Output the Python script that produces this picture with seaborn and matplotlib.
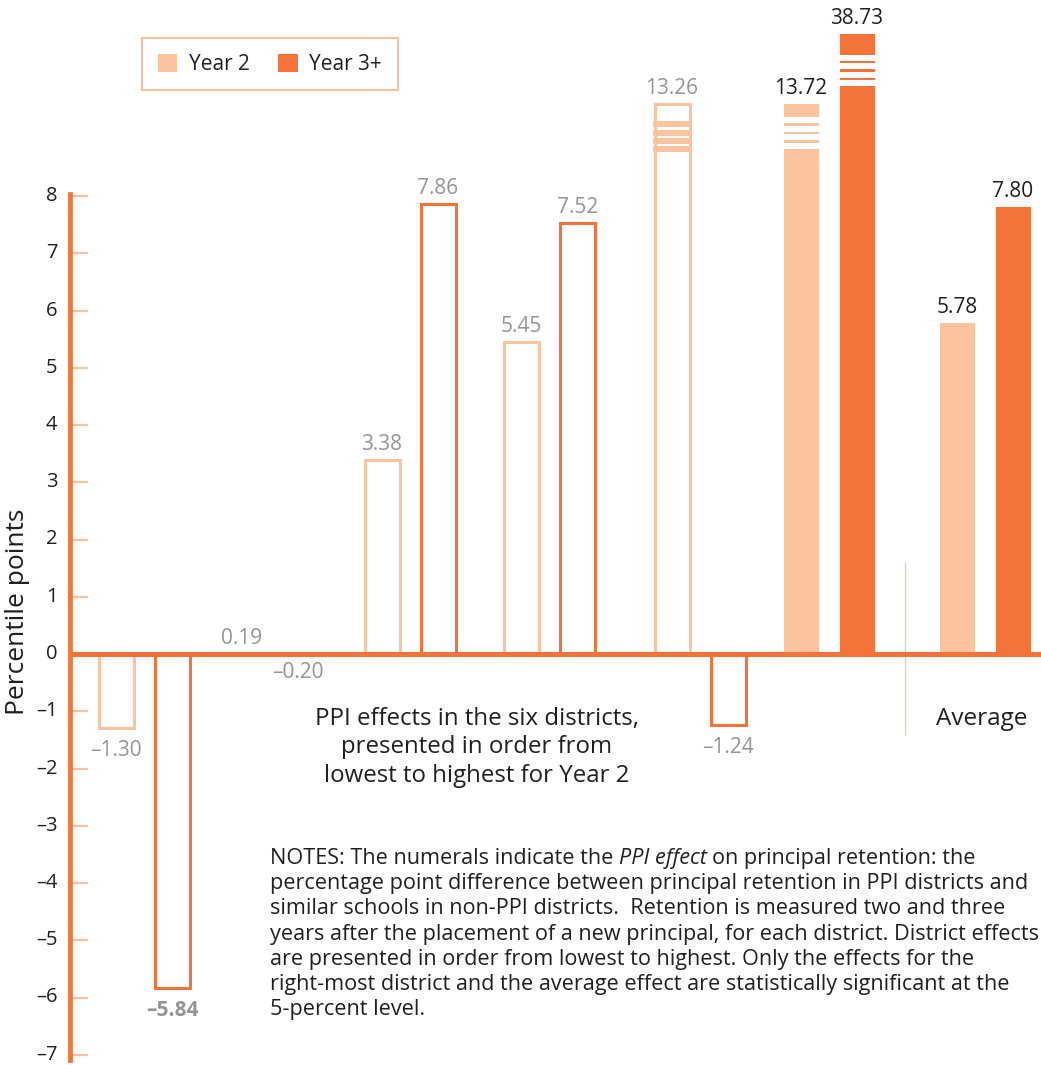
import numpy as np
import pandas as pd
import matplotlib
matplotlib.use("Agg")
import matplotlib.pyplot as plt
import seaborn as sns
from matplotlib.patches import Rectangle, Patch
from matplotlib import font_manager as fm

# ---------------- data ----------------
districts = ["D1", "D2", "D3", "D4", "D5", "D6", "Average"]
year2 = [-1.30, 0.19, 3.38, 5.45, 13.26, 13.72, 5.78]
year3 = [-5.84, -0.20, 7.86, 7.52, -1.24, 38.73, 7.80]
series = ["Year 2", "Year 3+"]
significant = ["D6", "Average"]
ytick_values = list(range(-7, 9))

center_text = ["PPI effects in the six districts,",
               "presented in order from",
               "lowest to highest for Year 2"]
notes_pre = "NOTES: The numerals indicate the"
notes_ital = "PPI effect"
notes_post = "on principal retention: the"
notes_lines = [
    "percentage point difference between principal retention in PPI districts and",
    "similar schools in non-PPI districts.  Retention is measured two and three",
    "years after the placement of a new principal, for each district. District effects",
    "are presented in order from lowest to highest. Only the effects for the",
    "right-most district and the average effect are statistically significant at the",
    "5-percent level.",
]

# ---------------- layout / style ----------------
W, H = 1041, 1065
PXU = 57.25          # pixels per unit
ZERO_Y = 654         # pixel row of zero
group_x = [144, 270, 410, 549.5, 700, 829, 985]
cap = {"Year 2": 9.6, "Year 3+": 10.83}   # axis-break display heights
hidden = ["D2"]
bold_labels = [("D1", "Year 3+")]
DARK = "#F37338"
LIGHT = "#FBC39E"
GRAY = "#939598"
INK = "#231F20"

sns.set_theme(style="white")
plt.rcParams['font.family'] = ['Open Sans', 'DejaVu Sans']


def italic_family():
    for fam in ['Open Sans', 'Noto Sans', 'Lato', 'DejaVu Sans']:
        try:
            f = fm.findfont(fm.FontProperties(family=fam, style='italic'),
                            fallback_to_default=False)
            if 'italic' in f.lower() or 'oblique' in f.lower():
                return fam
        except Exception:
            pass
    return 'DejaVu Sans'


ITAL = italic_family()


def dy(py):
    """pixel row -> data y"""
    return (ZERO_Y - py) / PXU


def ff(x, y):
    """pixel -> figure fraction"""
    return x / W, 1 - y / H


def fmt(v):
    return ("\u2013" if v < 0 else "") + f"{abs(v):g}"


rows = []
for d, gx, v2, v3 in zip(districts, group_x, year2, year3):
    for s, v in zip(series, [v2, v3]):
        rows.append(dict(district=d, x=gx, series=s, value=v,
                         shown=min(v, cap[s])))
df = pd.DataFrame(rows)

fig = plt.figure(figsize=(W / 100, H / 100), dpi=100)
ax = fig.add_axes([0, 0, 1, 1])
ax.set_facecolor("white")

native = min(np.diff(sorted(set(group_x))))
sns.barplot(data=df, x="x", y="shown", hue="series", hue_order=series,
            palette=[LIGHT, DARK], native_scale=True, width=112 / native,
            gap=0.375, errorbar=None, legend=False, saturation=1, ax=ax,
            zorder=2)

# match patches to rows
offset = {"Year 2": -28, "Year 3+": 28}
exp_centers = np.array([r.x + offset[r.series] for r in df.itertuples()])
for p in list(ax.patches):
    cx = p.get_x() + p.get_width() / 2
    idx = int(np.argmin(np.abs(exp_centers - cx)))
    r = df.iloc[idx]
    col = LIGHT if r.series == "Year 2" else DARK
    if r.district in hidden:
        p.set_visible(False)
        continue
    filled = r.district in significant
    if filled:
        p.set_facecolor(col)
        p.set_edgecolor("none")
    else:
        p.set_facecolor("white")
        p.set_edgecolor(col)
        p.set_linewidth(2.2)
    # axis-break marks
    if r.value > cap[r.series]:
        top = r.shown
        x0, w = p.get_x(), p.get_width()
        if filled:
            d0 = 13 if r.series == "Year 2" else 21
            for k in range(4):
                off = d0 + 8.5 * k
                ax.add_patch(Rectangle((x0 - 0.5, top - (off + 6) / PXU), w + 1,
                                       6 / PXU, facecolor="white",
                                       edgecolor="none", zorder=3))
        else:
            for off in [17, 25.3, 33.7, 42]:
                ax.add_patch(Rectangle((x0 - 1.5, top - (off + 6) / PXU), w + 3,
                                       6 / PXU, facecolor=col,
                                       edgecolor="none", zorder=3))

# value labels
for r in df.itertuples():
    anchor = 0 if r.district in hidden else r.shown
    cx = r.x + offset[r.series]
    if r.value >= 0:
        yb = anchor + 10 / PXU
    else:
        yb = anchor - (24 if r.district in hidden else 28) / PXU
    txt = ("\u2013" if r.value < 0 else "") + f"{abs(r.value):.2f}"
    ax.text(cx, yb, txt, ha="center", va="baseline", fontsize=15,
            color=INK if r.district in significant else GRAY,
            fontweight="bold" if (r.district, r.series) in bold_labels else "normal",
            zorder=6)

# axes
ax.set_xlim(0, W)
ax.set_ylim(dy(H), dy(0))
for s in ["top", "right", "bottom"]:
    ax.spines[s].set_visible(False)
sp = ax.spines["left"]
sp.set_position(("data", 70))
sp.set_bounds(-7.1, 8.04)
sp.set_color(DARK)
sp.set_linewidth(3.4)
sp.set_zorder(5)
ax.set_xticks([])
ax.set_yticks(ytick_values)
ax.set_yticklabels([fmt(v) for v in ytick_values])
ax.tick_params(axis="y", direction="in", length=13, width=1.6, color=LIGHT,
               pad=9, labelsize=14.5, labelcolor=INK, left=True)
for lbl in ax.get_yticklabels():
    lbl.set_verticalalignment("center")
ax.set_xlabel("")
ax.set_ylabel("")
ax.plot([70, W], [0, 0], color=DARK, lw=3.6, zorder=4, solid_capstyle="butt")
ax.plot([905, 905], [dy(562), dy(735)], color=LIGHT, lw=0.9, zorder=1)

fig.text(*ff(18, 612), "Percentile points", rotation=90, ha="center",
         va="center", fontsize=19, color=INK)

# legend
handles = [Patch(facecolor=LIGHT, edgecolor="none"),
           Patch(facecolor=DARK, edgecolor="none")]
leg = fig.legend(handles, series, loc="upper left",
                 bbox_to_anchor=ff(142, 38), ncol=2, frameon=True,
                 fancybox=False, edgecolor="#F7A67C", fontsize=15,
                 handlelength=0.95, handleheight=0.95, handletextpad=0.55,
                 columnspacing=1.35, borderpad=0.75, borderaxespad=0)
leg.get_frame().set_linewidth(1.3)
for t in leg.get_texts():
    t.set_color(INK)

# centre annotation text
for i, line in enumerate(center_text):
    fig.text(*ff(477, 724.5 + 28.5 * i), line, ha="center", va="baseline",
             fontsize=17.3, color=INK)
fig.text(*ff(982, 725), "Average", ha="center", va="baseline", fontsize=17.5,
         color=INK)

# notes
NFS = 15.6
renderer = fig.canvas.get_renderer()


def width_px(s, **kw):
    t = fig.text(0, 0, s, fontsize=NFS, **kw)
    w = t.get_window_extent(renderer).width
    t.remove()
    return w


space = width_px("x x") - width_px("xx")
x0, yb0 = 270, 864
t1 = fig.text(*ff(x0, yb0), notes_pre, fontsize=NFS, va="baseline", color=INK)
x1 = x0 + width_px(notes_pre) + space
fig.text(*ff(x1, yb0), notes_ital, fontsize=NFS, va="baseline", color=INK,
         style="italic", family=[ITAL, "DejaVu Sans"])
x2 = x1 + width_px(notes_ital, style="italic", family=[ITAL, "DejaVu Sans"]) + space
fig.text(*ff(x2, yb0), notes_post, fontsize=NFS, va="baseline", color=INK)
for i, line in enumerate(notes_lines):
    fig.text(*ff(x0, yb0 + 25.2 * (i + 1)), line, fontsize=NFS, va="baseline",
             color=INK)

fig.savefig("out.png", dpi=100, facecolor="white")
